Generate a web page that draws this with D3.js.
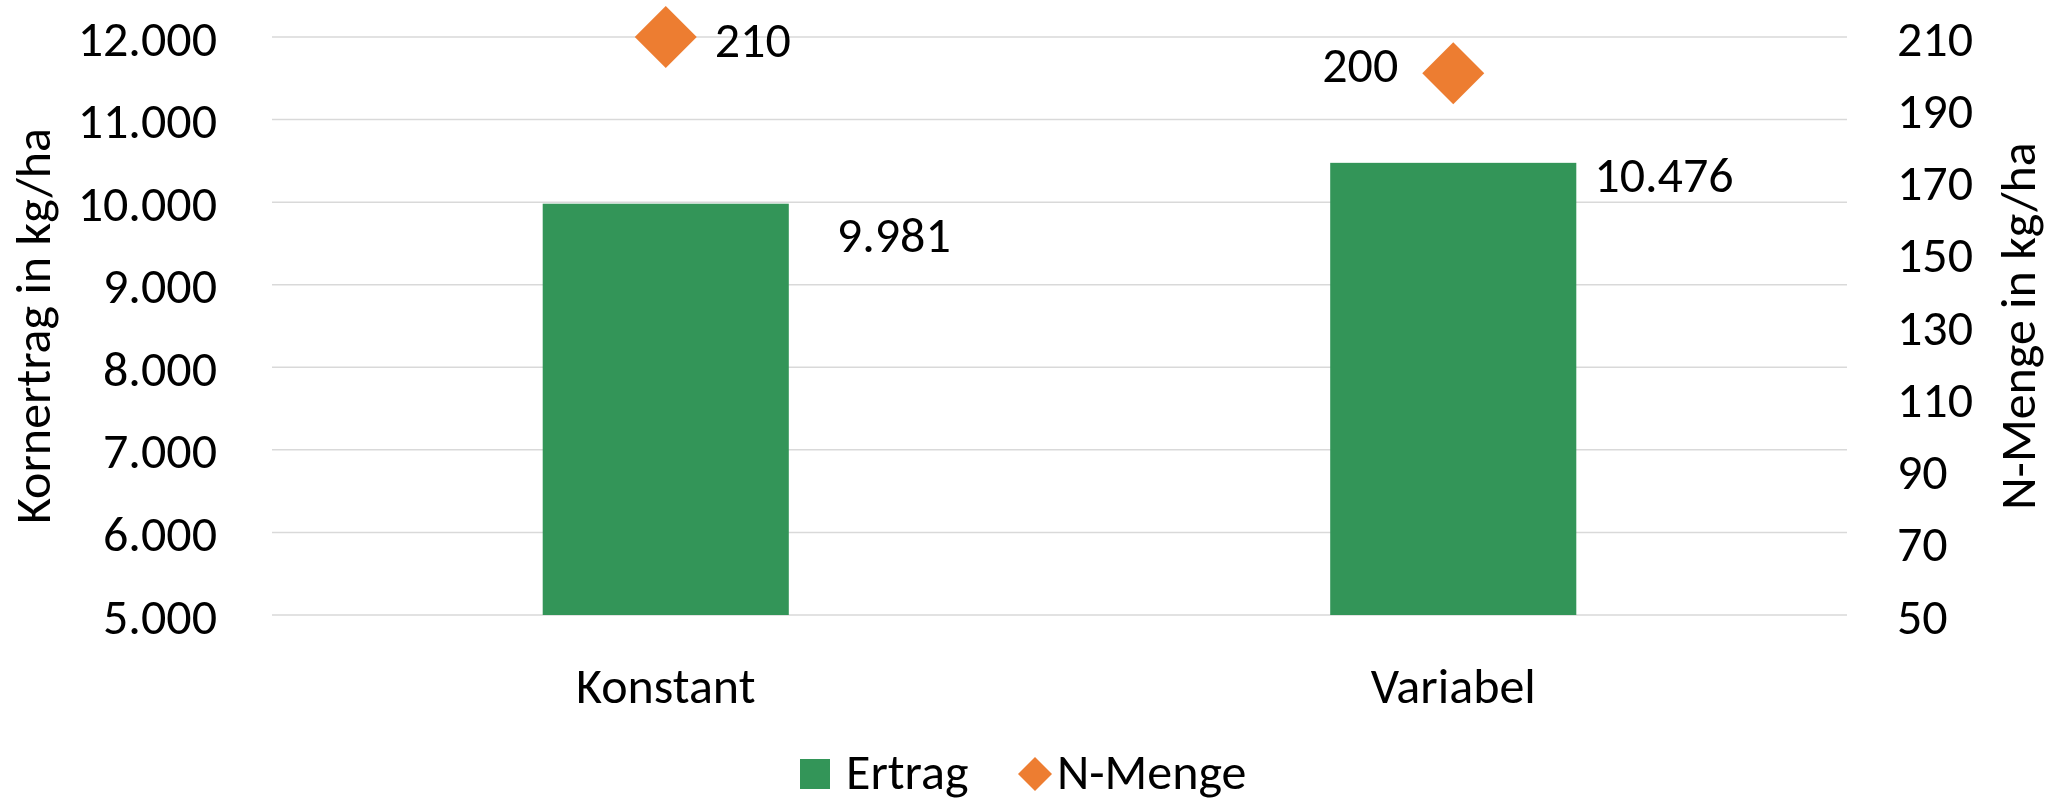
<!DOCTYPE html>
<html lang="de">
<head>
<meta charset="UTF-8">
<title>Kornertrag und N-Menge</title>
<script src="https://cdn.jsdelivr.net/npm/d3@7"></script>
<style>
  html, body { margin: 0; padding: 0; background: #fff; }
  svg text { font-family: Carlito, Calibri, Lato, sans-serif; fill: #000; }
</style>
</head>
<body>
<div id="chart"></div>
<script>
// --- data ---
var categories = ['Konstant', 'Variabel'];
var ertrag = [9981, 10476];        // Kornertrag in kg/ha (bars, left axis)
var nMenge = [210, 200];           // N-Menge in kg/ha (diamonds, right axis)
var leftTicks = [5000, 6000, 7000, 8000, 9000, 10000, 11000, 12000];
var rightTicks = [50, 70, 90, 110, 130, 150, 170, 190, 210];

var WIDTH = 2051, HEIGHT = 801;
var FONT = 50;
var GREEN = '#339558', ORANGE = '#ED7D31', GRID = '#D9D9D9';

// manual label nudges (label placement was hand adjusted in the original)
var barLabelNudge = [[48, 48], [18, 29]];      // [dx from bar right, dy from bar top]
var dotLabelNudge = [[49, 20, 'start'], [-55, 9, 'end']];

var de = d3.formatLocale({ decimal: ',', thousands: '.', grouping: [3], currency: ['', ' €'] });
var fmt = de.format(',d');

var plot = { left: 272, right: 1847, top: 37, bottom: 615 };

var x = d3.scaleBand().domain(categories).range([plot.left, plot.right]).padding(0);
var yL = d3.scaleLinear().domain([5000, 12000]).range([plot.bottom, plot.top]);
var yR = d3.scaleLinear().domain([50, 210]).range([plot.bottom, plot.top]);
var barW = x.bandwidth() * 0.3125;

var svg = d3.select('#chart').append('svg')
    .attr('width', WIDTH)
    .attr('height', HEIGHT);

// gridlines
svg.append('g').selectAll('line')
    .data(leftTicks).enter().append('line')
    .attr('x1', plot.left).attr('x2', plot.right)
    .attr('y1', function (d) { return yL(d); })
    .attr('y2', function (d) { return yL(d); })
    .attr('stroke', GRID).attr('stroke-width', 1.5);

// axes
var axL = svg.append('g').attr('transform', 'translate(' + plot.left + ',0)')
    .call(d3.axisLeft(yL).tickValues(leftTicks).tickFormat(fmt).tickSize(0).tickPadding(55));
var axR = svg.append('g').attr('transform', 'translate(' + plot.right + ',0)')
    .call(d3.axisRight(yR).tickValues(rightTicks).tickSize(0).tickPadding(50));
var axX = svg.append('g').attr('transform', 'translate(0,' + plot.bottom + ')')
    .call(d3.axisBottom(x).tickSize(0).tickPadding(88));

[axL, axR, axX].forEach(function (g) {
    g.select('.domain').remove();
    g.selectAll('text').style('font-size', FONT + 'px').attr('fill', '#000');
});
axL.selectAll('text').attr('dy', '0.36em');
axR.selectAll('text').attr('dy', '0.36em');
axX.selectAll('text').attr('dy', '0');

// bars
svg.append('g').selectAll('rect')
    .data(ertrag).enter().append('rect')
    .attr('x', function (d, i) { return x(categories[i]) + (x.bandwidth() - barW) / 2; })
    .attr('y', function (d) { return yL(d); })
    .attr('width', barW)
    .attr('height', function (d) { return yL(5000) - yL(d); })
    .attr('fill', GREEN);

svg.append('g').selectAll('text')
    .data(ertrag).enter().append('text')
    .attr('x', function (d, i) { return x(categories[i]) + (x.bandwidth() + barW) / 2 + barLabelNudge[i][0]; })
    .attr('y', function (d, i) { return yL(d) + barLabelNudge[i][1]; })
    .style('font-size', FONT + 'px')
    .text(function (d) { return fmt(d); });

// diamonds (right axis)
var diamond = d3.symbol().type(d3.symbolDiamond2).size(Math.pow(31 / 0.62625, 2));
svg.append('g').selectAll('path')
    .data(nMenge).enter().append('path')
    .attr('d', diamond)
    .attr('transform', function (d, i) {
        return 'translate(' + (x(categories[i]) + x.bandwidth() / 2) + ',' + yR(d) + ')';
    })
    .attr('fill', ORANGE);

svg.append('g').selectAll('text')
    .data(nMenge).enter().append('text')
    .attr('x', function (d, i) { return x(categories[i]) + x.bandwidth() / 2 + dotLabelNudge[i][0]; })
    .attr('y', function (d, i) { return yR(d) + dotLabelNudge[i][1]; })
    .attr('text-anchor', function (d, i) { return dotLabelNudge[i][2]; })
    .style('font-size', FONT + 'px')
    .text(function (d) { return d; });

// axis titles
var midY = (plot.top + plot.bottom) / 2;
svg.append('text')
    .attr('transform', 'translate(50,' + midY + ') rotate(-90)')
    .attr('text-anchor', 'middle')
    .style('font-size', FONT + 'px')
    .text('Kornertrag in kg/ha');
svg.append('text')
    .attr('transform', 'translate(2035,' + midY + ') rotate(-90)')
    .attr('text-anchor', 'middle')
    .style('font-size', FONT + 'px')
    .text('N-Menge in kg/ha');

// legend
var leg = svg.append('g');
leg.append('rect').attr('x', 800).attr('y', 759).attr('width', 30).attr('height', 30).attr('fill', GREEN);
leg.append('text').attr('x', 846).attr('y', 789).style('font-size', FONT + 'px').text('Ertrag');
leg.append('path')
    .attr('d', d3.symbol().type(d3.symbolDiamond2).size(Math.pow(17 / 0.62625, 2)))
    .attr('transform', 'translate(1035,774)')
    .attr('fill', ORANGE);
leg.append('text').attr('x', 1057).attr('y', 789).style('font-size', FONT + 'px').text('N-Menge');
</script>
</body>
</html>
